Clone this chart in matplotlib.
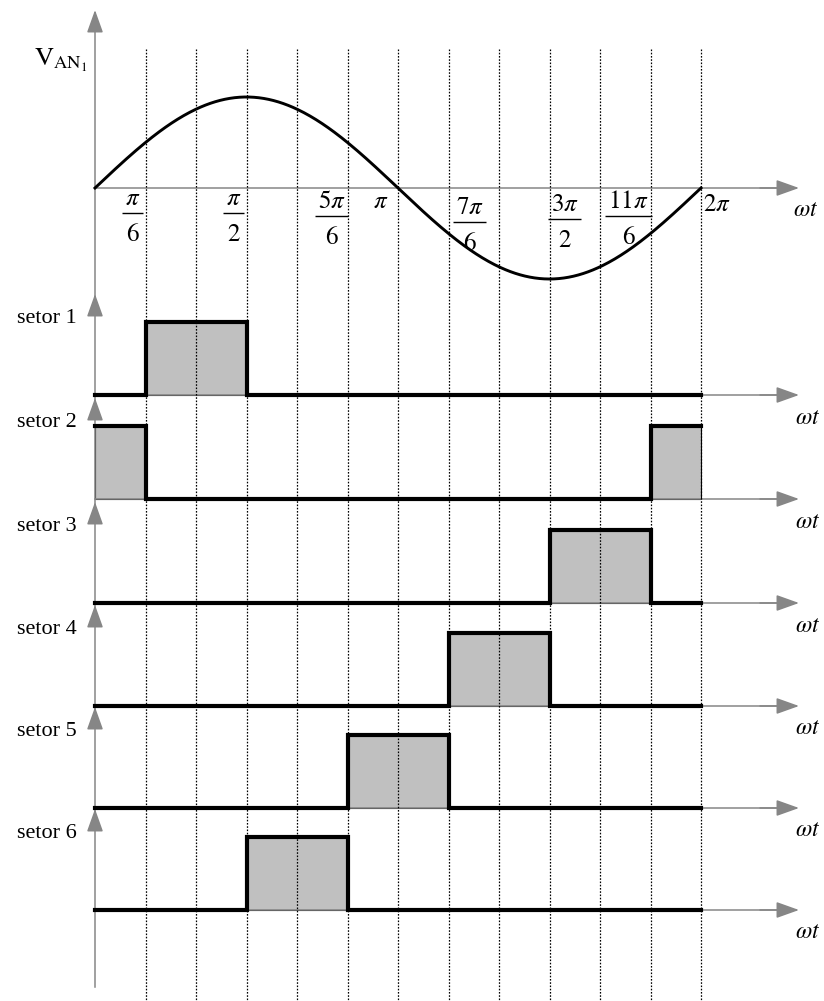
import numpy as np
import matplotlib
matplotlib.use("Agg")
import matplotlib.pyplot as plt

plt.rcParams["font.family"] = ["Liberation Serif", "DejaVu Serif"]
plt.rcParams["mathtext.fontset"] = "stix"

# ---- data -------------------------------------------------------------
sector_names = ["setor 1", "setor 2", "setor 3", "setor 4", "setor 5", "setor 6"]
# active twelfth-period segments (segment k spans k*pi/6 .. (k+1)*pi/6)
sector_on = [[1, 2], [0, 11], [9, 10], [7, 8], [5, 6], [3, 4]]

tick_mult = [1, 3, 5, 6, 7, 9, 11, 12]          # multiples of pi/6
tick_num = [r"$\pi$", r"$\pi$", r"$5\pi$", r"$\pi$", r"$7\pi$", r"$3\pi$",
            r"$11\pi$", r"$2\pi$"]
tick_den = ["6", "2", "6", "", "6", "2", "6", ""]

wt = np.linspace(0, 2 * np.pi, 500)
v_an1 = np.sin(wt)

# ---- layout (vertical positions in pixel rows, top = 0) ---------------
W, H = 824, 1001
X0_PX, X2PI_PX = 95, 701
S = (X2PI_PX - X0_PX) / (2 * np.pi)            # pixels per radian
px = lambda p: (p - X0_PX) / S                 # pixel column -> radians

SINE_ZERO, SINE_AMP = 188, 91
PANEL_BASE = [395, 499, 603, 706, 808, 910]
PULSE_H = 73
ARROW_TIP_X = px(799)

label_dx = [-13, -13, -16, -17, 21, 15, -22, 16]
label_bar = [213, 213, 216, 202, 222, 219, 216, 205]   # fraction bar (or text centre)

GRAY = "#868686"
FILL = "#c0c0c0"

fig = plt.figure(figsize=(W / 100, H / 100), dpi=100)
ax = fig.add_axes([0, 0, 1, 1])
ax.set_xlim(px(0), px(W))
ax.set_ylim(H, 0)
ax.axis("off")

head = "-|>,head_length=1.4,head_width=0.5"


def arrow(x0, y0, x1, y1):
    ax.annotate("", xy=(x1, y1), xytext=(x0, y0),
                arrowprops=dict(arrowstyle=head, mutation_scale=10, color=GRAY,
                                lw=1.1, shrinkA=0, shrinkB=0), zorder=2)


# vertical axis with arrowheads for every trace
ax.plot([0, 0], [987, 25], color=GRAY, lw=1.1, zorder=2)
arrow(0, 30, 0, 10)
for base in PANEL_BASE:
    arrow(0, base - 84, 0, base - 101)

# dotted grid at multiples of pi/6
for k in range(1, 13):
    xk = k * np.pi / 6
    ax.plot([xk, xk], [49, H], color="black", lw=0.9,
            dashes=(1.3, 1.3), zorder=3)

# sine trace
ax.plot([0, ARROW_TIP_X - px(95 + 18)], [SINE_ZERO, SINE_ZERO], color=GRAY, lw=1.1, zorder=2)
arrow(px(760), SINE_ZERO, ARROW_TIP_X, SINE_ZERO)
ax.plot(wt, SINE_ZERO - SINE_AMP * v_an1, color="black", lw=2.1, zorder=5)
ax.text(px(806), SINE_ZERO + 22, r"$\omega t$", fontsize=17, ha="center", va="center")
ax.text(px(34), 66, r"$\mathrm{V}_{\mathrm{AN}_{1}}$", fontsize=19, ha="left", va="baseline")

# angle labels: stacked fractions built from numerator, bar and denominator
renderer = fig.canvas.get_renderer()
for m, num, den, dx, yb in zip(tick_mult, tick_num, tick_den, label_dx, label_bar):
    xc = m * np.pi / 6 + dx / S
    if not den:
        ax.text(xc, yb, num, fontsize=18, ha="center", va="center")
        continue
    t = ax.text(xc, yb - 8, num, fontsize=18, ha="center", va="baseline")
    ax.text(xc, yb + 28, "$" + den + "$", fontsize=18, ha="center", va="baseline")
    bb = t.get_window_extent(renderer)
    half = (bb.width / 2 + 3) / S
    ax.plot([xc - half, xc + half], [yb, yb], color="black", lw=1.0,
            solid_capstyle="butt")

# sector pulse trains
edges = np.arange(13) * np.pi / 6
for name, on, base in zip(sector_names, sector_on, PANEL_BASE):
    lev = np.zeros(12)
    lev[on] = 1
    lev_ext = np.append(lev, lev[-1])
    y = base - PULSE_H * lev_ext
    ax.plot([0, ARROW_TIP_X - px(95 + 18)], [base, base], color=GRAY, lw=1.1, zorder=2)
    arrow(px(760), base, ARROW_TIP_X, base)
    ax.fill_between(edges, base, y, step="post", facecolor=FILL,
                    edgecolor="black", lw=0.8, zorder=1)
    ax.step(edges, y, where="post", color="black", lw=3.0, zorder=6,
            solid_joinstyle="miter")
    ax.text(px(77), base - PULSE_H + 1, name, fontsize=16, ha="right", va="baseline")
    ax.text(px(808), base + 23, r"$\omega t$", fontsize=17, ha="center", va="center")

fig.savefig("out.png", dpi=100)
